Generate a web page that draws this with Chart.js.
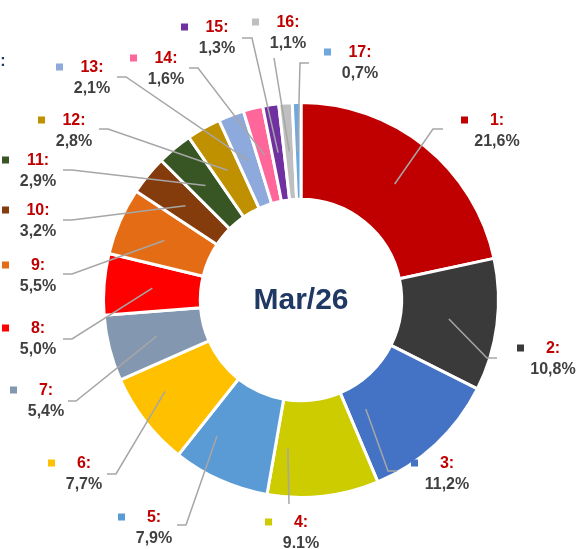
<!DOCTYPE html>
<html>
<head>
<meta charset="utf-8">
<script src="https://cdn.jsdelivr.net/npm/chart.js@4/dist/chart.umd.min.js"></script>
<style>
  html, body { margin: 0; padding: 0; background: #fff; }
  #wrap { width: 576px; height: 549px; position: relative; }
</style>
</head>
<body>
<div id="wrap"><canvas id="chart" width="576" height="549"></canvas></div>
<script>
// values
const categories = ['1', '2', '3', '4', '5', '6', '7', '8', '9', '10', '11', '12', '13', '14', '15', '16', '17'];
const shares = [21.6, 10.8, 11.2, 9.1, 7.9, 7.7, 5.4, 5.0, 5.5, 3.2, 2.9, 2.8, 2.1, 1.6, 1.3, 1.1, 0.7];
const shareText = ['21,6%', '10,8%', '11,2%', '9.1%', '7,9%', '7,7%', '5,4%', '5,0%', '5,5%', '3,2%', '2,9%', '2,8%', '2,1%', '1,6%', '1,3%', '1,1%', '0,7%'];
const centerTitle = 'Mar/26';

const colors = ['#C00000', '#3A3A3A', '#4472C4', '#CCCC00', '#5B9BD5', '#FFC000', '#8497B0', '#FF0000',
  '#E36C14', '#843C0C', '#375623', '#BF9000', '#8EA9DB', '#FF6699', '#7030A0', '#BFBFBF', '#6FA8DC'];

// label layout (centre of the "N:" line) and leader stub: [stub end, elbow]
const labelXY = [[497,120],[553,348],[447,463],[301,522],[154,517],[84,463],[46,390],[38,328],[38,265],
  [38,210],[38,160],[74,120],[92,67],[166,58],[217,27],[288,22],[360,52]];
const leaders = [
  [[443,129],[433,129]], [[497,358],[487,358]], [[397,471],[388,471]], [[289,504],[289,504]],
  [[177,525],[186,525]], [[107,474],[116,474]], [[68,401],[76,401]], [[63,339],[72,339]],
  [[63,274],[72,274]], [[63,220],[72,220]], [[63,170],[72,170]], [[99,129],[108,129]],
  [[117,77],[126,77]], [[189,68],[198,68]], [[242,38],[252,38]], [[274,58],[274,58]], [[309,63],[300,63]]
];
// sideways shift of the leader tip inside the slice (bottom labels)
const tipShift = [0, 0, -37, -30, -23, -18, 0, 0, 0, 0, 0, 0, 0, 0, 0, 0, 0];

const FONT = '"Liberation Sans", Arial, sans-serif';

const labelPlugin = {
  id: 'outLabels',
  afterDraw(chart) {
    const ctx = chart.ctx;
    const arcs = chart.getDatasetMeta(0).data;
    ctx.save();

    // leader lines
    ctx.strokeStyle = '#A6A6A6';
    ctx.lineWidth = 1.5;
    arcs.forEach((arc, i) => {
      const p = arc.getProps(['x', 'y', 'startAngle', 'endAngle', 'innerRadius', 'outerRadius'], true);
      const a = (p.startAngle + p.endAngle) / 2;
      const r = (p.innerRadius + p.outerRadius) / 2;
      const [stub, elbow] = leaders[i];
      ctx.beginPath();
      ctx.moveTo(p.x + Math.cos(a) * r + tipShift[i], p.y + Math.sin(a) * r);
      ctx.lineTo(elbow[0], elbow[1]);
      ctx.lineTo(stub[0], stub[1]);
      ctx.stroke();
    });

    // labels
    ctx.textAlign = 'center';
    ctx.textBaseline = 'middle';
    categories.forEach((c, i) => {
      const [x, y] = labelXY[i];
      ctx.fillStyle = colors[i];
      ctx.fillRect(x - 36, y - 3.5, 7, 7);
      ctx.font = 'bold 16px ' + FONT;
      ctx.fillStyle = '#C00000';
      ctx.fillText(c + ':', x, y + 1);
      ctx.fillStyle = '#404040';
      ctx.fillText(shareText[i], x, y + 22);
    });

    // centre title
    ctx.font = 'bold 30px ' + FONT;
    ctx.fillStyle = '#1F3864';
    ctx.fillText(centerTitle, arcs[0].x, arcs[0].y + 1);

    // cut-off title tail at the left edge
    ctx.font = 'bold 16px ' + FONT;
    ctx.fillText(':', 3, 62);
    ctx.restore();
  }
};

new Chart(document.getElementById('chart'), {
  type: 'doughnut',
  data: {
    labels: categories,
    datasets: [{
      data: shares,
      backgroundColor: colors,
      borderColor: '#FFFFFF',
      borderWidth: 3
    }]
  },
  options: {
    responsive: false,
    animation: false,
    cutout: '51%',
    layout: { padding: { left: 102, right: 76, top: 101, bottom: 50 } },
    plugins: {
      legend: { display: false },
      tooltip: { enabled: false }
    }
  },
  plugins: [labelPlugin]
});
</script>
</body>
</html>
